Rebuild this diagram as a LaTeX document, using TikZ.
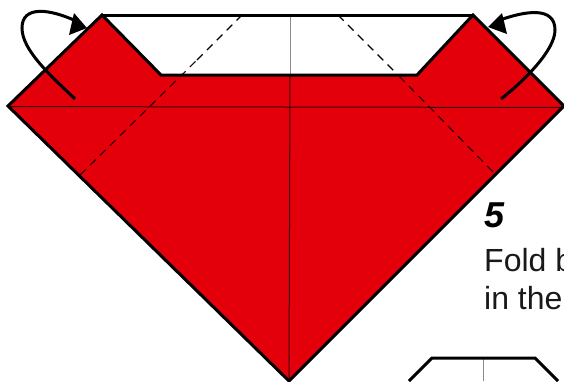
\documentclass[tikz,border=0pt]{standalone}
\usepackage{fontspec}
\setmainfont{Liberation Sans}
\definecolor{foldred}{HTML}{E3000B}
\tikzset{
  outline/.style={line width=3pt,line join=miter,draw=black},
  crease/.style={line width=1pt},
  foldline/.style={line width=1.1pt,dash pattern=on 8pt off 6pt,draw=black},
  curl/.style={line width=3pt,line cap=butt,draw=black},
  caption/.style={anchor=base west,inner sep=0pt,font=\fontsize{32}{32}\selectfont,text=black!90}
}
\begin{document}
\begin{tikzpicture}[x=1pt,y=-1pt]
\useasboundingbox (0,0) rectangle (564,381);
\clip (0,0) rectangle (564,381);
% white upper band and creases on white
\draw[crease,draw=black!45] (290,15) -- (290,75);
\draw[foldline] (197,60) -- (242,15);
\draw[foldline] (338,15) -- (399,76);
% paper
\fill[foldred] (8,106) -- (102,15) -- (161,75) -- (417,75) -- (473,15) -- (564,106) -- (289,381) -- cycle;
% creases on red
\draw[crease,draw=black!75!foldred] (8,106.5) -- (564,107.5);
\draw[crease,draw=black!75!foldred] (290,75) -- (289,381);
\draw[foldline,draw=black!85!foldred] (80,175) -- (197,60);
\draw[foldline,draw=black!85!foldred] (399,76) -- (496,175);
% outline
\draw[outline] (8,106) -- (102,15) -- (161,75) -- (417,75) -- (473,15) -- (564,106) -- (289,381) -- cycle;
\draw[outline] (102,15) -- (473,15);
% arrows
\draw[curl] (75,99) .. controls (50,75) and (22,50) .. (22,28) .. controls (22,5) and (50,9) .. (76,21);
\fill[black] (87,28) -- (74,13) -- (69,35) -- cycle;
\draw[curl] (501,99) .. controls (525,80) and (555,50) .. (555,30) .. controls (555,6) and (525,11) .. (500,20);
\fill[black] (488,27) -- (502,13) -- (507,34) -- cycle;
% caption
\node[anchor=base west,inner sep=0pt,font=\fontsize{36}{36}\selectfont\bfseries\itshape] (num) at (484,227) {5};
\node[caption] (line1) at (484,271) {Fold b};
\node[caption] (line2) at (484,309) {in the};
% next panel
\draw[crease,draw=black!45] (483,358) -- (483,381);
\draw[outline] (409,381) -- (432,358) -- (535,358) -- (558,381);
\end{tikzpicture}
\end{document}
